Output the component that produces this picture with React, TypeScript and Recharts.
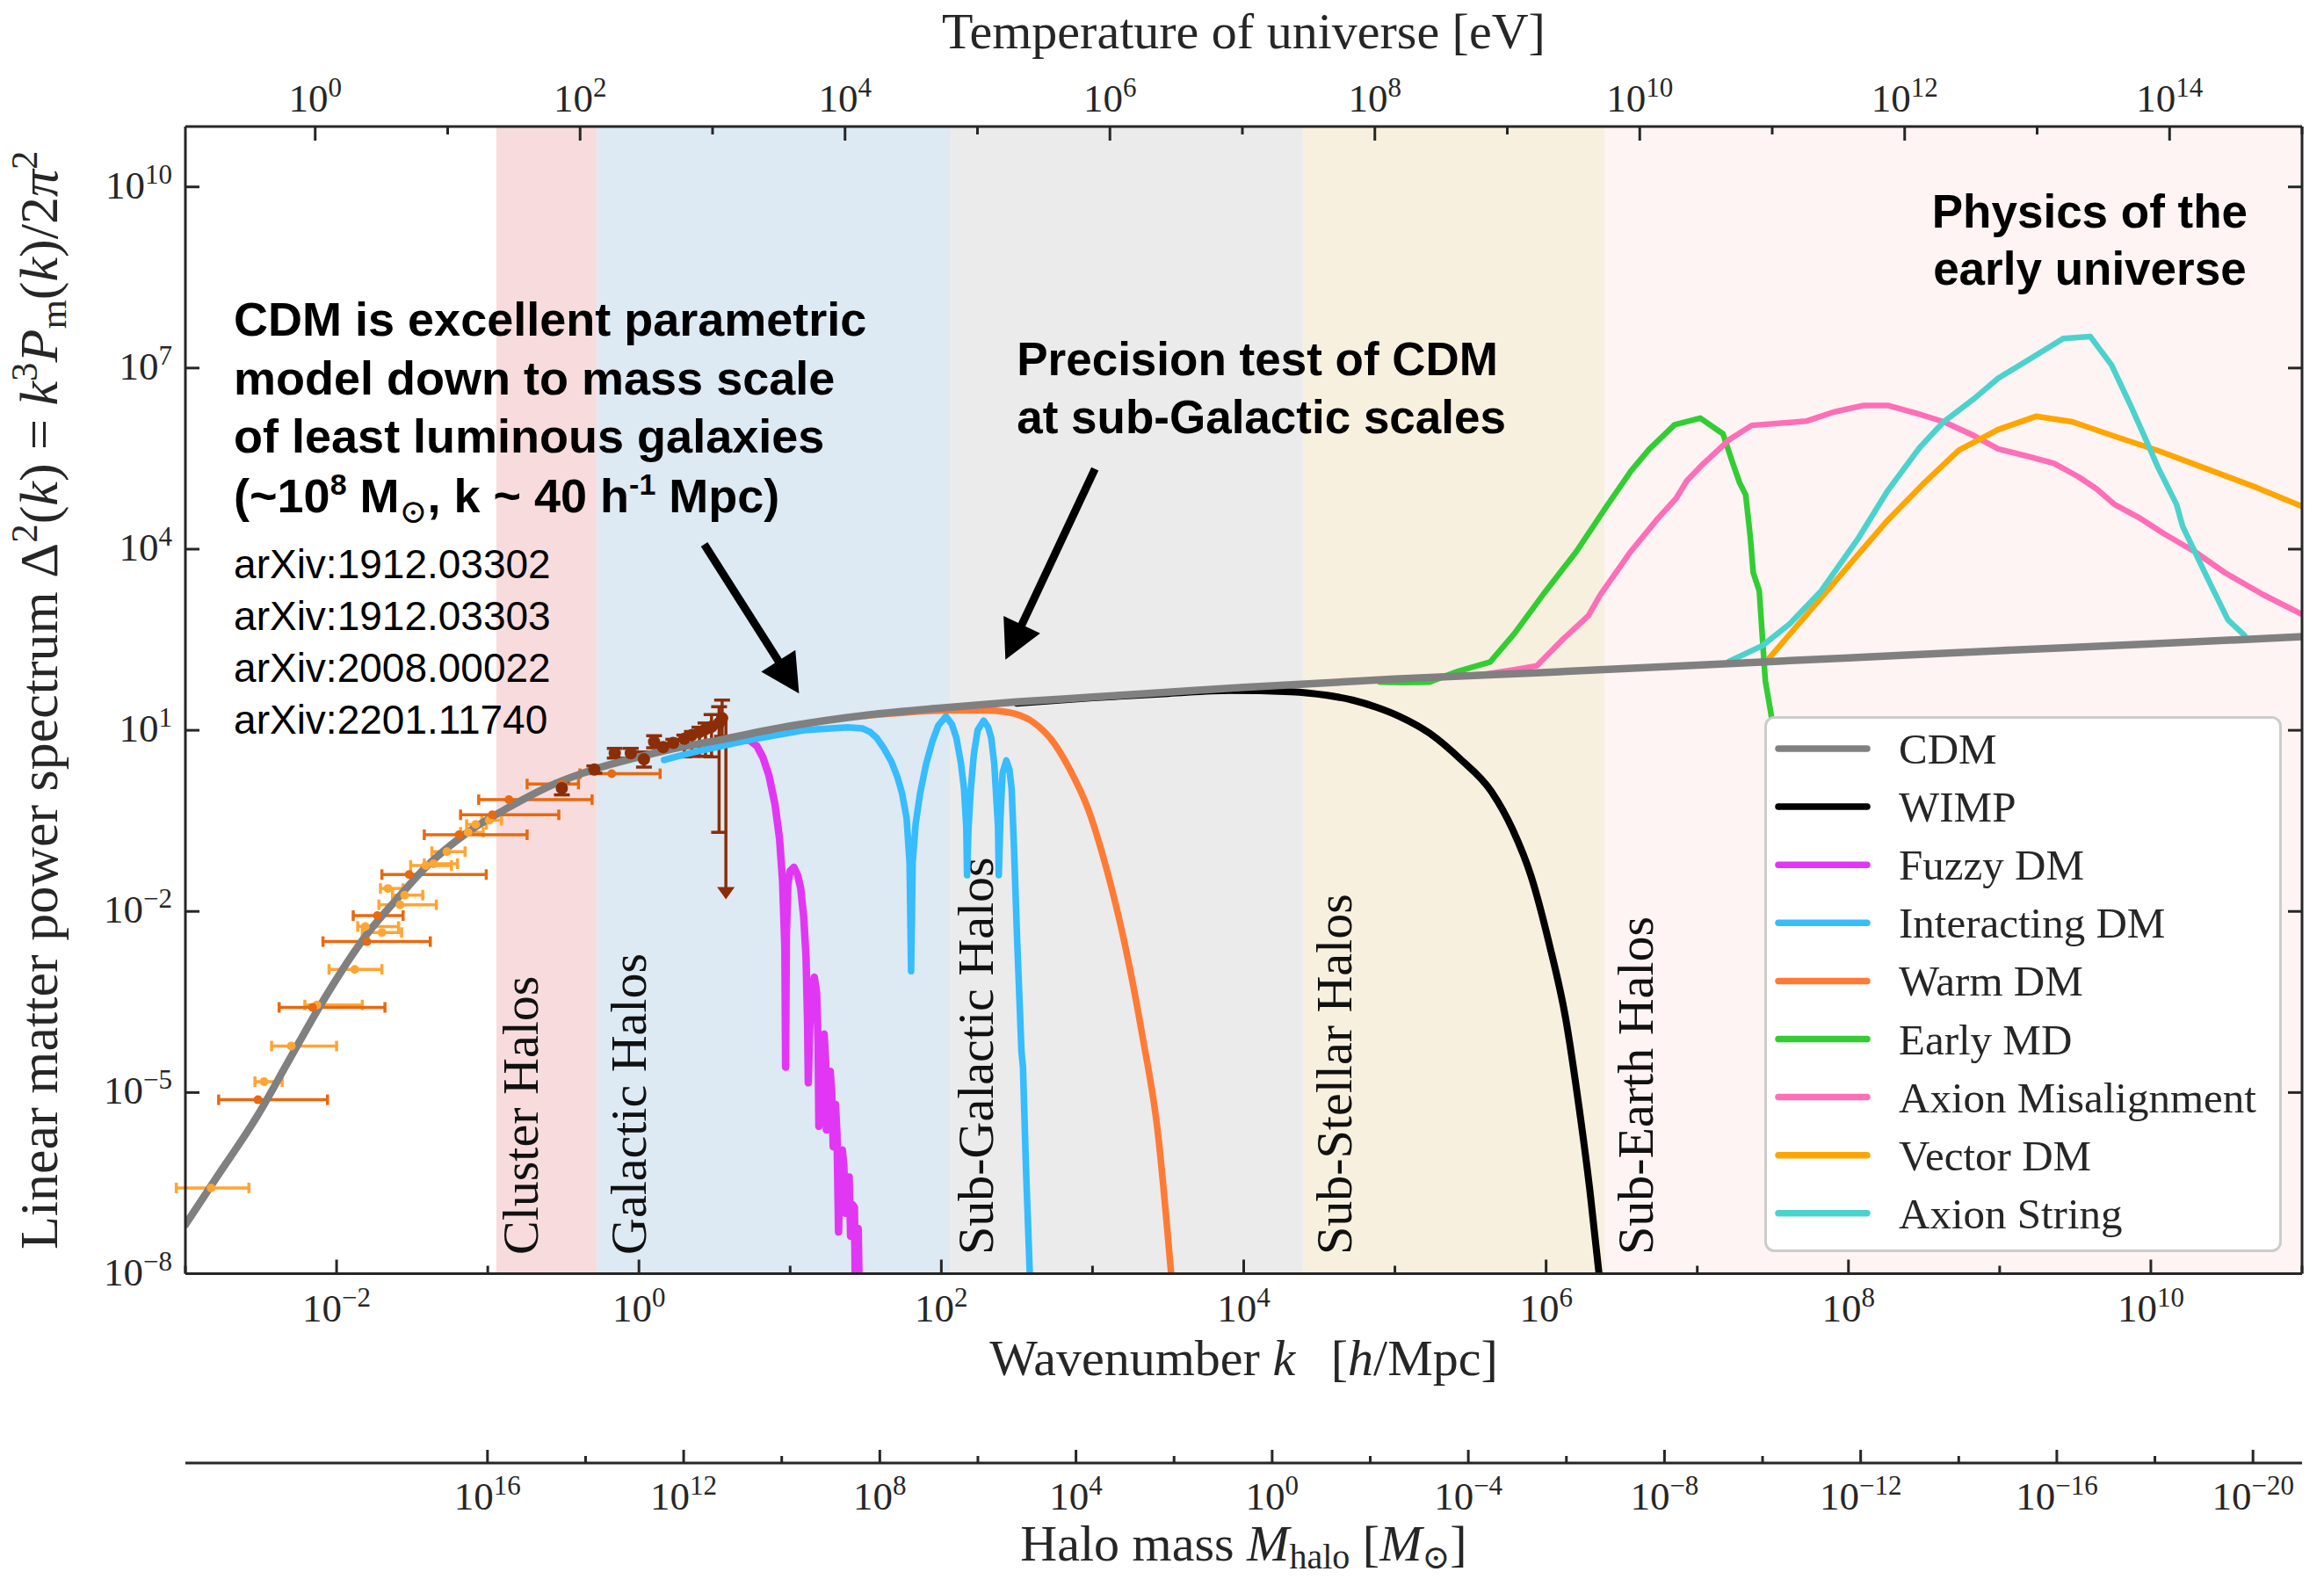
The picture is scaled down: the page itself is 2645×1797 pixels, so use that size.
import React from 'react'
import {
  ComposedChart,
  ErrorBar,
  Line,
  ReferenceArea,
  ReferenceDot,
  ReferenceLine,
  Scatter,
  XAxis,
  YAxis,
} from 'recharts'

const SERIF = '"Liberation Serif", "DejaVu Serif", serif'
const SANS = '"Liberation Sans", Arial, sans-serif'
const INK = '#262626'

// every value below is a log10: k in h/Mpc, D = Delta^2(k)
const cdmK = [-3.0, -2.8, -2.52, -2.3, -2.106, -1.8, -1.578, -1.411, -1.133, -0.856, -0.578, -0.3, -0.022, 0.256, 0.533, 1.0, 1.5, 2.0, 2.5, 3.0, 3.5, 4.0, 5.0, 6.0, 7.0, 8.0, 9.0, 10.0, 11.0]
const cdmD = [-7.19, -6.43, -5.37, -4.4, -3.55, -2.38, -1.73, -1.27, -0.69, -0.27, 0.09, 0.35, 0.545, 0.71, 0.84, 1.07, 1.25, 1.37, 1.47, 1.55, 1.63, 1.71, 1.85, 1.96, 2.08, 2.2, 2.32, 2.43, 2.55]

const wimpK = [2.5, 3.0, 3.5, 3.905, 4.31, 4.55, 4.72, 4.88, 5.03, 5.23, 5.43, 5.64, 5.78, 5.9, 6.02, 6.13, 6.21, 6.29, 6.35]
const wimpD = [1.45, 1.54, 1.61, 1.66, 1.64, 1.58, 1.5, 1.38, 1.23, 0.95, 0.53, -0.02, -0.65, -1.41, -2.53, -3.78, -5.1, -6.63, -8.0]

const fuzzyK = [0.45, 0.6, 0.73, 0.78, 0.82, 0.86, 0.9, 0.93, 0.95, 0.965, 0.97, 0.975, 0.985, 1.0, 1.025, 1.05, 1.07, 1.09, 1.105, 1.115, 1.12, 1.13, 1.14, 1.16, 1.175, 1.185, 1.19, 1.2, 1.215, 1.225, 1.235, 1.24, 1.25, 1.265, 1.275, 1.285, 1.29, 1.3, 1.31, 1.32, 1.33, 1.345, 1.355, 1.365, 1.375, 1.39, 1.4, 1.41, 1.425, 1.43, 1.44, 1.45, 1.455]
const fuzzyD = [0.7, 0.8, 0.84, 0.74, 0.55, 0.25, -0.23, -0.8, -1.5, -2.6, -4.58, -2.4, -1.55, -1.33, -1.27, -1.4, -1.62, -2.1, -2.76, -3.8, -4.84, -3.9, -3.3, -3.09, -3.35, -4.2, -5.56, -4.6, -4.1, -4.03, -4.5, -5.62, -5.0, -4.65, -5.0, -5.9, -5.6, -5.2, -5.7, -7.31, -6.3, -5.95, -6.2, -7.0, -6.4, -6.4, -7.38, -6.85, -6.9, -8.0, -7.3, -7.25, -8.0]

const idmK = [0.166, 0.4, 0.73, 1.09, 1.38, 1.48, 1.53, 1.574, 1.62, 1.67, 1.71, 1.74, 1.77, 1.79, 1.8, 1.81, 1.83, 1.86, 1.9, 1.94, 1.98, 2.03, 2.07, 2.1, 2.13, 2.15, 2.165, 2.17, 2.18, 2.195, 2.215, 2.24, 2.28, 2.31, 2.33, 2.35, 2.36, 2.375, 2.38, 2.39, 2.405, 2.43, 2.45, 2.465, 2.48, 2.5, 2.53, 2.54, 2.56, 2.585]
const idmD = [0.51, 0.66, 0.84, 1.0, 1.05, 1.03, 0.97, 0.87, 0.7, 0.48, 0.22, -0.04, -0.45, -1.2, -2.99, -1.2, -0.55, -0.04, 0.45, 0.81, 1.08, 1.23, 1.1, 0.87, 0.45, 0.03, -0.6, -1.4, -0.6, 0.03, 0.6, 1.0, 1.16, 1.05, 0.87, 0.45, 0.03, -0.6, -1.4, -0.5, 0.29, 0.5, 0.35, 0.03, -0.9, -2.38, -4.32, -4.58, -6.27, -8.0]

const wdmK = [1.5, 2.06, 2.3, 2.44, 2.61, 2.73, 2.85, 2.97, 3.09, 3.21, 3.33, 3.43, 3.52]
const wdmD = [1.24, 1.33, 1.33, 1.3, 1.13, 0.84, 0.35, -0.3, -1.27, -2.5, -4.06, -5.62, -8.0]

const emdK = [4.9, 5.05, 5.23, 5.42, 5.63, 5.79, 5.99, 6.2, 6.4, 6.56, 6.68, 6.85, 7.02, 7.17, 7.23, 7.28, 7.32, 7.35, 7.37, 7.41, 7.45, 7.49, 7.52]
const emdD = [1.8, 1.79, 1.8, 1.98, 2.13, 2.6, 3.28, 3.96, 4.71, 5.29, 5.65, 6.06, 6.17, 5.91, 5.46, 5.1, 4.9, 4.22, 3.61, 3.31, 1.82, 1.24, -1.0]

const misK = [5.6, 5.78, 5.94, 6.1, 6.28, 6.36, 6.56, 6.74, 6.86, 6.93, 7.03, 7.21, 7.36, 7.72, 7.9, 8.1, 8.26, 8.45, 8.63, 8.83, 8.99, 9.2, 9.36, 9.52, 9.64, 9.76, 9.93, 10.09, 10.29, 10.49, 10.74, 11.0]
const misD = [1.93, 2.0, 2.07, 2.48, 2.9, 3.25, 3.96, 4.51, 4.84, 5.13, 5.39, 5.81, 6.05, 6.12, 6.27, 6.38, 6.38, 6.25, 6.11, 5.88, 5.66, 5.53, 5.42, 5.2, 5.0, 4.74, 4.51, 4.25, 3.96, 3.61, 3.25, 2.92]

const vecK = [7.47, 7.66, 7.86, 8.06, 8.26, 8.49, 8.73, 8.99, 9.24, 9.48, 9.76, 10.05, 10.37, 10.7, 11.0]
const vecD = [2.18, 2.73, 3.31, 3.9, 4.48, 5.07, 5.64, 5.98, 6.2, 6.11, 5.87, 5.63, 5.33, 5.02, 4.71]

const strK = [7.21, 7.43, 7.61, 7.82, 8.06, 8.26, 8.47, 8.63, 8.83, 8.99, 9.16, 9.42, 9.6, 9.74, 9.87, 9.95, 10.05, 10.17, 10.21, 10.29, 10.39, 10.51, 10.62]
const strD = [2.14, 2.4, 2.76, 3.31, 4.16, 4.97, 5.68, 6.11, 6.49, 6.83, 7.09, 7.49, 7.52, 7.05, 6.36, 5.91, 5.34, 4.74, 4.38, 3.96, 3.44, 2.83, 2.57]

// measurements: light orange and dark orange (horizontal errors), brown (vertical errors)
const loK = [-2.83, -2.48, -2.3, -2.13, -1.88, -1.81, -1.7, -1.66, -1.58, -1.55, -1.41, -1.36, -1.27, -1.13, -1.08, -0.99]
const loD = [-6.58, -4.82, -4.23, -3.55, -2.96, -2.25, -2.35, -1.62, -1.89, -1.73, -1.24, -1.21, -1.01, -0.69, -0.56, -0.49]
const loErrL = [0.23, 0.06, 0.13, 0.08, 0.17, 0.05, 0.13, 0.05, 0.14, 0.08, 0.1, 0.06, 0.1, 0.05, 0.06, 0.05]
const loErrR = [0.25, 0.12, 0.3, 0.3, 0.18, 0.22, 0.13, 0.1, 0.24, 0.12, 0.17, 0.16, 0.12, 0.1, 0.07, 0.08]

const doK = [-2.52, -2.16, -1.8, -1.73, -1.52, -1.19, -0.97, -0.86, -0.51, -0.18]
const doD = [-5.12, -3.59, -2.5, -2.07, -1.39, -0.73, -0.4, -0.15, 0.11, 0.28]
const doErrL = [0.26, 0.22, 0.29, 0.16, 0.18, 0.23, 0.21, 0.2, 0.23, 0.21]
const doErrR = [0.46, 0.48, 0.42, 0.17, 0.51, 0.45, 0.44, 0.55, 0.11, 0.32]

const brK = [-0.51, -0.295, -0.16, -0.054, 0.033, 0.1, 0.16, 0.227, 0.3, 0.35, 0.4, 0.44, 0.48, 0.53, 0.55]
const brD = [0.04, 0.35, 0.62, 0.62, 0.52, 0.81, 0.72, 0.79, 0.86, 0.92, 0.97, 1.02, 1.06, 1.12, 1.2]
const brErrLo = [0.11, 0.06, 0.08, 0.08, 0.13, 0.1, 0.06, 0.06, 0.3, 0.35, 0.4, 0.45, 0.5, 1.81, 0.3]
const brErrHi = [0.11, 0.06, 0.08, 0.08, 0.12, 0.1, 0.06, 0.06, 0.06, 0.06, 0.08, 0.1, 0.2, 0.27, 0.3]

const limitK = [0.575, 0.575]
const limitD = [1.15, -1.8]

const bandNames = ['Cluster Halos', 'Galactic Halos', 'Sub-Galactic Halos', 'Sub-Stellar Halos', 'Sub-Earth Halos']
const bandEdges = [-0.943, -0.278, 2.056, 4.391, 6.386, 11]

const kTicks = [-3, -2, -1, 0, 1, 2, 3, 4, 5, 6, 7, 8, 9, 10, 11]
const tTicks = [0, 1, 2, 3, 4, 5, 6, 7, 8, 9, 10, 11, 12, 13, 14, 15]
const mTicks = [16, 14, 12, 10, 8, 6, 4, 2, 0, -2, -4, -6, -8, -10, -12, -14, -16, -18, -20]
const dTicks = [-8, -5, -2, 1, 4, 7, 10]

const cdmArrowFrom = [0.432, 4.08]
const cdmArrowTo = [1.059, 1.61]
const subArrowFrom = [3.016, 5.33]
const subArrowTo = [2.424, 2.17]

const bandFills = ['#F8DCDD', '#DDE9F3', '#EBEBEB', '#F8F0DF', '#FFF4F4']
const bandTextInset = [47, 56, 49, 55, 55]

const zip = (k: number[], d: number[]) => k.map((x, i) => ({ x, y: d[i] }))

const curves = [
  { name: 'WIMP', k: wimpK, d: wimpD, color: '#000000', width: 8, type: 'monotone' },
  { name: 'Fuzzy DM', k: fuzzyK, d: fuzzyD, color: '#E236F5', width: 8.5, type: 'linear' },
  { name: 'Interacting DM', k: idmK, d: idmD, color: '#36BCFF', width: 7.5, type: 'linear' },
  { name: 'Warm DM', k: wdmK, d: wdmD, color: '#FF7B35', width: 7.5, type: 'monotone' },
  { name: 'Early MD', k: emdK, d: emdD, color: '#32CD32', width: 6.5, type: 'linear' },
  { name: 'Axion Misalignment', k: misK, d: misD, color: '#FF6EB6', width: 6.5, type: 'linear' },
  { name: 'Vector DM', k: vecK, d: vecD, color: '#FFA500', width: 6.5, type: 'linear' },
  { name: 'Axion String', k: strK, d: strD, color: '#4CD2CD', width: 6.5, type: 'linear' },
]
const cdm = { name: 'CDM', k: cdmK, d: cdmD, color: '#808080', width: 8.5 }
const legendItems = [cdm, ...curves]

const lightPts = loK.map((x, i) => ({ x, y: loD[i], ex: [loErrL[i], loErrR[i]] }))
const darkPts = doK.map((x, i) => ({ x, y: doD[i], ex: [doErrL[i], doErrR[i]] }))
const brownPts = brK.map((x, i) => ({ x, y: brD[i], ey: [brErrLo[i], brErrHi[i]] }))

// the secondary axes carry no curve of their own; their tick values bind them to the chart
const tAnchor = tTicks.map((x) => ({ x, y: dTicks[0] }))
const mAnchor = mTicks.map((x) => ({ x, y: dTicks[0] }))

const sup = (v: number) => (v < 0 ? '\u2212' + Math.abs(v) : String(v))

function Pow({ x, y, exp, anchor }: { x: number; y: number; exp: number; anchor: 'start' | 'middle' | 'end' }) {
  return (
    <text x={x} y={y} textAnchor={anchor} fontFamily={SERIF} fontSize={45} fill={INK}>
      10
      <tspan dy={-17} fontSize={31}>
        {sup(exp)}
      </tspan>
    </text>
  )
}

const kTick = (p: any) => {
  const v = p.payload.value
  const major = v % 2 === 0
  return (
    <g>
      <line x1={p.x} x2={p.x} y1={p.y} y2={p.y - (major ? 16 : 9)} stroke={INK} strokeWidth={3} />
      {major && <Pow x={p.x} y={p.y + 54} exp={v} anchor="middle" />}
    </g>
  )
}

const mTick = (p: any) => {
  const v = p.payload.value
  const major = v % 4 === 0
  return (
    <g>
      <line x1={p.x} x2={p.x} y1={p.y} y2={p.y - (major ? 15 : 8)} stroke={INK} strokeWidth={3} />
      {major && <Pow x={p.x} y={p.y + 53} exp={v} anchor="middle" />}
    </g>
  )
}

const tTick = (p: any) => {
  const v = p.payload.value
  const major = v % 2 === 0
  return (
    <g>
      <line x1={p.x} x2={p.x} y1={p.y} y2={p.y + (major ? 16 : 9)} stroke={INK} strokeWidth={3} />
      {major && <Pow x={p.x} y={p.y - 17} exp={v} anchor="middle" />}
    </g>
  )
}

const dTick = (p: any) => (
  <g>
    <line x1={p.x} x2={p.x + 16} y1={p.y} y2={p.y} stroke={INK} strokeWidth={3} />
    <Pow x={p.x - 15} y={p.y + 13} exp={p.payload.value} anchor="end" />
  </g>
)

const rTick = (p: any) => <line x1={p.x} x2={p.x - 16} y1={p.y} y2={p.y} stroke={INK} strokeWidth={3} />

const kTitle = (p: any) => {
  const vb = p.viewBox
  return (
    <text x={vb.x + vb.width / 2} y={vb.y + 115.5} textAnchor="middle" fontFamily={SERIF} fontSize={58} fill={INK}>
      Wavenumber <tspan fontStyle="italic">k</tspan>
      {'\u2002\u2009['}
      <tspan fontStyle="italic">h</tspan>/Mpc]
    </text>
  )
}

const mTitle = (p: any) => {
  const vb = p.viewBox
  return (
    <text x={vb.x + vb.width / 2} y={vb.y + 111} textAnchor="middle" fontFamily={SERIF} fontSize={58} fill={INK}>
      Halo mass <tspan fontStyle="italic">M</tspan>
      <tspan dy={9} fontSize={40}>halo</tspan>
      <tspan dy={-9}> [</tspan>
      <tspan fontStyle="italic">M</tspan>
      <tspan dy={9} fontSize={38}>{'\u2299'}</tspan>
      <tspan dy={-9}>]</tspan>
    </text>
  )
}

const tTitle = (p: any) => {
  const vb = p.viewBox
  return (
    <text x={vb.x + vb.width / 2} y={vb.y + 47} textAnchor="middle" fontFamily={SERIF} fontSize={58} fill={INK}>
      Temperature of universe [eV]
    </text>
  )
}

const dTitle = (p: any) => {
  const vb = p.viewBox
  const cx = vb.x + 57
  const cy = vb.y + vb.height / 2
  return (
    <text x={cx} y={cy} transform={`rotate(-90 ${cx} ${cy})`} textAnchor="middle" fontFamily={SERIF} fontSize={62} fill={INK}>
      Linear matter power spectrum {'\u0394'}
      <tspan dy={-23} fontSize={43}>2</tspan>
      <tspan dy={23}>(</tspan>
      <tspan fontStyle="italic">k</tspan>) = <tspan fontStyle="italic">k</tspan>
      <tspan dy={-23} fontSize={43}>3</tspan>
      <tspan dy={23} fontStyle="italic">P</tspan>
      <tspan dy={10} fontSize={43}>m</tspan>
      <tspan dy={-10}>(</tspan>
      <tspan fontStyle="italic">k</tspan>)/2<tspan fontStyle="italic">{'\u03c0'}</tspan>
      <tspan dy={-23} fontSize={43}>2</tspan>
    </text>
  )
}

const bandLabel = (i: number) => (p: any) => {
  const vb = p.viewBox
  const x = vb.x + bandTextInset[i]
  const y = vb.y + vb.height - 21.5
  return (
    <text x={x} y={y} transform={`rotate(-90 ${x} ${y})`} fontFamily={SERIF} fontSize={58} fill="#111">
      {bandNames[i]}
    </text>
  )
}

const arrow = (color: string, shaft: number, headLen: number, headHalf: number) => (p: any) => {
  const { x1, y1, x2, y2 } = p
  const len = Math.hypot(x2 - x1, y2 - y1)
  const ux = (x2 - x1) / len
  const uy = (y2 - y1) / len
  const bx = x2 - ux * headLen
  const by = y2 - uy * headLen
  return (
    <g>
      <line x1={x1} y1={y1} x2={bx + ux * 2} y2={by + uy * 2} stroke={color} strokeWidth={shaft} />
      <polygon
        points={`${x2},${y2} ${bx - uy * headHalf},${by + ux * headHalf} ${bx + uy * headHalf},${by - ux * headHalf}`}
        fill={color}
      />
    </g>
  )
}

const cdmNote = (p: any) => {
  const { cx, cy } = p
  const bold = { fontFamily: SANS, fontWeight: 700, fontSize: 54, fill: '#000' }
  const thin = { fontFamily: SANS, fontWeight: 400, fontSize: 46, fill: '#000' }
  return (
    <g>
      <text x={cx} y={cy} {...bold}>CDM is excellent parametric</text>
      <text x={cx} y={cy + 67} {...bold}>model down to mass scale</text>
      <text x={cx} y={cy + 133} {...bold}>of least luminous galaxies</text>
      <text x={cx} y={cy + 201} {...bold}>
        (~10<tspan dy={-20} fontSize={34}>8</tspan>
        <tspan dy={20}> M</tspan>
        <tspan dy={12} fontFamily={SERIF} fontWeight={400} fontSize={38}>{'\u2299'}</tspan>
        <tspan dy={-12}>, k ~ 40 h</tspan>
        <tspan dy={-20} fontSize={34}>-1</tspan>
        <tspan dy={20}> Mpc)</tspan>
      </text>
      <text x={cx} y={cy + 276} {...thin}>arXiv:1912.03302</text>
      <text x={cx} y={cy + 335} {...thin}>arXiv:1912.03303</text>
      <text x={cx} y={cy + 394} {...thin}>arXiv:2008.00022</text>
      <text x={cx} y={cy + 453} {...thin}>arXiv:2201.11740</text>
    </g>
  )
}

const subNote = (p: any) => (
  <g fontFamily={SANS} fontWeight={700} fontSize={53} fill="#000">
    <text x={p.cx} y={p.cy}>Precision test of CDM</text>
    <text x={p.cx} y={p.cy + 66}>at sub-Galactic scales</text>
  </g>
)

const earlyNote = (p: any) => (
  <g fontFamily={SANS} fontWeight={700} fontSize={53} fill="#000" textAnchor="middle">
    <text x={p.cx} y={p.cy}>Physics of the</text>
    <text x={p.cx} y={p.cy + 65}>early universe</text>
  </g>
)

const dot = (color: string, r: number) => (p: any) => <circle cx={p.cx} cy={p.cy} r={r} fill={color} />
const noMark = () => <g />

const axisLine = { stroke: INK, strokeWidth: 3 }

export default function App() {
  return (
    <div style={{ position: 'relative', width: 2629, height: 1789, marginBottom: -9 }}>
      <ComposedChart width={2629} height={1789} margin={{ top: 0, right: 0, bottom: 0, left: 0 }}>
        {bandNames.map((name, i) => (
          <ReferenceArea
            key={name}
            xAxisId="k"
            yAxisId="d"
            x1={bandEdges[i]}
            x2={bandEdges[i + 1]}
            fill={bandFills[i]}
            fillOpacity={1}
            stroke="none"
            label={bandLabel(i)}
          />
        ))}

        <Scatter xAxisId="t" yAxisId="d" data={tAnchor} dataKey="y" shape={noMark} isAnimationActive={false} />
        <Scatter xAxisId="m" yAxisId="d" data={mAnchor} dataKey="y" shape={noMark} isAnimationActive={false} />

        <Scatter xAxisId="k" yAxisId="d" data={lightPts} dataKey="y" shape={dot('#FFA533', 5)} isAnimationActive={false}>
          <ErrorBar dataKey="ex" direction="x" width={6} stroke="#FFA533" strokeWidth={3.5} />
        </Scatter>
        <Scatter xAxisId="k" yAxisId="d" data={darkPts} dataKey="y" shape={dot('#E8690F', 5)} isAnimationActive={false}>
          <ErrorBar dataKey="ex" direction="x" width={6} stroke="#E8690F" strokeWidth={3.5} />
        </Scatter>
        <Scatter xAxisId="k" yAxisId="d" data={brownPts} dataKey="y" shape={dot('#8B2E08', 7)} isAnimationActive={false}>
          <ErrorBar dataKey="ey" direction="y" width={9} stroke="#8B2E08" strokeWidth={3.5} />
        </Scatter>
        <ReferenceLine
          xAxisId="k"
          yAxisId="d"
          segment={[
            { x: limitK[0], y: limitD[0] },
            { x: limitK[1], y: limitD[1] },
          ]}
          shape={arrow('#8B2E08', 3.5, 14, 10)}
        />

        {curves.map((c) => (
          <Line
            key={c.name}
            name={c.name}
            xAxisId="k"
            yAxisId="d"
            data={zip(c.k, c.d)}
            dataKey="y"
            type={c.type as any}
            stroke={c.color}
            strokeWidth={c.width}
            strokeLinecap="round"
            strokeLinejoin="round"
            dot={false}
            activeDot={false}
            isAnimationActive={false}
          />
        ))}
        <Line
          name={cdm.name}
          xAxisId="k"
          yAxisId="d"
          data={zip(cdm.k, cdm.d)}
          dataKey="y"
          type="monotone"
          stroke={cdm.color}
          strokeWidth={cdm.width}
          strokeLinecap="round"
          dot={false}
          activeDot={false}
          isAnimationActive={false}
        />

        <ReferenceLine
          xAxisId="k"
          yAxisId="d"
          segment={[
            { x: cdmArrowFrom[0], y: cdmArrowFrom[1] },
            { x: cdmArrowTo[0], y: cdmArrowTo[1] },
          ]}
          shape={arrow('#000', 9, 44, 23)}
        />
        <ReferenceLine
          xAxisId="k"
          yAxisId="d"
          segment={[
            { x: subArrowFrom[0], y: subArrowFrom[1] },
            { x: subArrowTo[0], y: subArrowTo[1] },
          ]}
          shape={arrow('#000', 9, 44, 23)}
        />
        <ReferenceDot xAxisId="k" yAxisId="d" x={-2.68} y={7.53} r={1} shape={cdmNote} />
        <ReferenceDot xAxisId="k" yAxisId="d" x={2.499} y={6.885} r={1} shape={subNote} />
        <ReferenceDot xAxisId="k" yAxisId="d" x={9.596} y={9.326} r={1} shape={earlyNote} />

        <XAxis
          xAxisId="k"
          dataKey="x"
          type="number"
          domain={[-3, 11]}
          allowDataOverflow
          ticks={kTicks}
          interval={0}
          height={215.5}
          tickSize={0}
          tickMargin={0}
          tickLine={false}
          tick={kTick}
          axisLine={axisLine}
          label={kTitle}
        />
        <XAxis
          xAxisId="m"
          dataKey="x"
          type="number"
          domain={[-21.0, 22.16]}
          reversed
          allowDataOverflow
          ticks={mTicks}
          interval={0}
          height={132}
          tickSize={0}
          tickMargin={0}
          tickLine={false}
          tick={mTick}
          axisLine={axisLine}
          label={mTitle}
        />
        <XAxis
          xAxisId="t"
          dataKey="x"
          orientation="top"
          type="number"
          domain={[-0.98, 15.0]}
          allowDataOverflow
          ticks={tTicks}
          interval={0}
          height={136}
          tickSize={0}
          tickMargin={0}
          tickLine={false}
          tick={tTick}
          axisLine={axisLine}
          label={tTitle}
        />
        <YAxis
          yAxisId="d"
          dataKey="y"
          type="number"
          domain={[-8, 11]}
          allowDataOverflow
          ticks={dTicks}
          interval={0}
          width={203}
          tickSize={0}
          tickMargin={0}
          tickLine={false}
          tick={dTick}
          axisLine={axisLine}
          label={dTitle}
        />
        <YAxis
          yAxisId="r"
          orientation="right"
          type="number"
          domain={[-8, 11]}
          allowDataOverflow
          ticks={dTicks}
          interval={0}
          width={17}
          tickSize={0}
          tickMargin={0}
          tickLine={false}
          tick={rTick}
          axisLine={axisLine}
        />
      </ComposedChart>

      <svg
        width={592}
        height={613}
        style={{ position: 'absolute', left: 1998.5, top: 806, pointerEvents: 'none' }}
      >
        <rect x={2.5} y={2.5} width={586} height={607} rx={10} fill="#fff" stroke="#cccccc" strokeWidth={3} />
        {legendItems.map((s, i) => {
          const cy = 38 + i * 66.1
          return (
            <g key={s.name}>
              <line x1={17} x2={118} y1={cy} y2={cy} stroke={s.color} strokeWidth={7.5} strokeLinecap="round" />
              <text x={154} y={cy + 17} fontFamily={SERIF} fontSize={49} fill={INK}>
                {s.name}
              </text>
            </g>
          )
        })}
      </svg>
    </div>
  )
}
